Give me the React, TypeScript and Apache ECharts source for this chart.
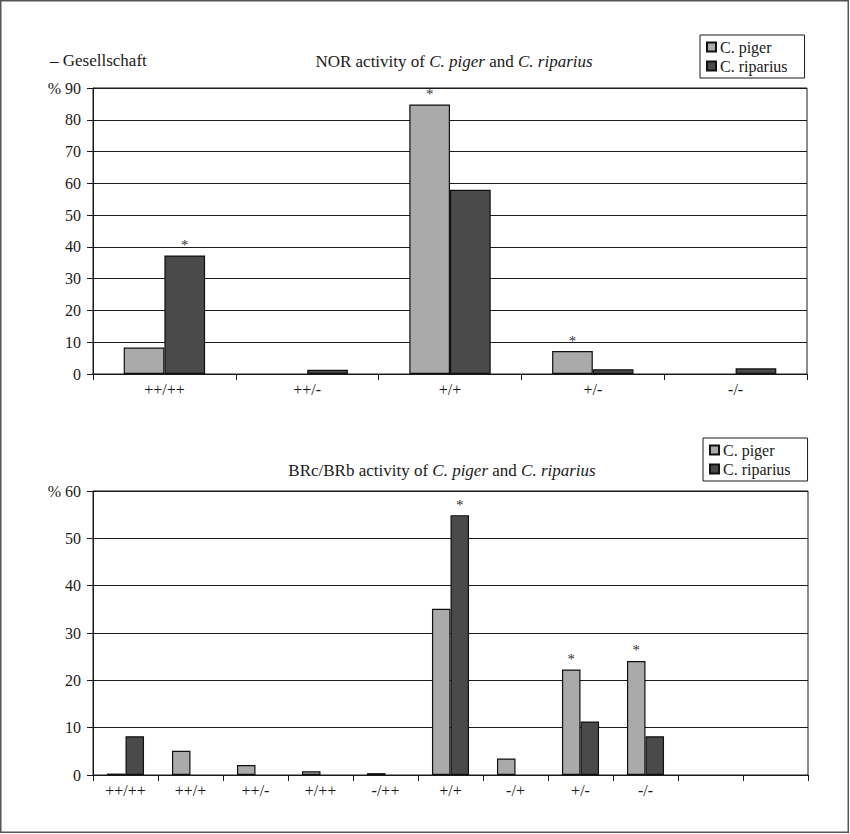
import { useEffect, useRef } from "react";
import * as echarts from "echarts";

// NOR activity (upper chart)
const norCategories = ["++/++", "++/-", "+/+", "+/-", "-/-"];
const norPiger = [8.3, 0, 84.8, 7.2, 0];
const norRiparius = [37.3, 1.3, 58, 1.5, 1.8];
const norPigerStar = [false, false, true, true, false];
const norRipariusStar = [true, false, false, false, false];

// BRc/BRb activity (lower chart)
const brCategories = ["++/++", "++/+", "++/-", "+/++", "-/++", "+/+", "-/+", "+/-", "-/-", "", " "];
const brPiger = [0.3, 5.1, 2.1, 0.8, 0.4, 35.1, 3.5, 22.3, 24.1, 0, 0];
const brRiparius = [8.2, 0, 0, 0, 0, 54.9, 0, 11.3, 8.2, 0, 0];
const brPigerStar = [false, false, false, false, false, false, false, true, true, false, false];
const brRipariusStar = [false, false, false, false, false, true, false, false, false, false, false];

const seriesNames = ["C. piger", "C. riparius"];

const FONT = "Liberation Serif";
const INK = "#1a1a1a";
const PIGER = "#aaaaaa";
const RIPARIUS = "#4a4a4a";

// zero bars are not drawn in the original figure
function withStars(values: number[], stars: boolean[]) {
  return values.map((v, i) => {
    if (v === 0) return "-";
    return stars[i]
      ? {
          value: v,
          label: {
            show: true,
            position: "top",
            distance: 3,
            formatter: "*",
            fontFamily: FONT,
            fontSize: 15,
            color: "#333",
          },
        }
      : v;
  });
}

function yAxis(gridIndex: number, max: number) {
  return {
    type: "value",
    gridIndex,
    min: 0,
    max,
    interval: 10,
    axisLine: { show: true, lineStyle: { color: INK, width: 1 } },
    axisTick: { show: true, length: 6, lineStyle: { color: INK } },
    axisLabel: {
      margin: 12,
      fontFamily: FONT,
      fontSize: 16,
      color: INK,
      formatter: (v: number) => (v === max ? `% ${v}` : `${v}`),
    },
    splitLine: { show: true, lineStyle: { color: INK, width: 1 } },
  };
}

function xAxis(gridIndex: number, data: string[]) {
  return {
    type: "category",
    gridIndex,
    data,
    axisLine: { show: true, lineStyle: { color: INK, width: 1 } },
    axisTick: { show: true, length: 6, interval: 0, lineStyle: { color: INK } },
    axisLabel: { interval: 0, margin: 7, fontFamily: FONT, fontSize: 16, color: INK },
  };
}

function bar(name: string, idx: number, data: any[], color: string) {
  return {
    name,
    type: "bar",
    xAxisIndex: idx,
    yAxisIndex: idx,
    data,
    barGap: "0%",
    barCategoryGap: "43%",
    itemStyle: { color, borderColor: "#111", borderWidth: 1.2 },
  };
}

function legend(left: number, top: number) {
  return {
    left,
    top,
    orient: "vertical",
    data: seriesNames,
    icon: "rect",
    itemWidth: 9,
    itemHeight: 9,
    itemGap: 3,
    padding: [4, 17, 4, 6],
    borderColor: INK,
    borderWidth: 1,
    selectedMode: false,
    textStyle: { fontFamily: FONT, fontSize: 16, color: INK, padding: [0, 0, 0, -1] },
  };
}

function title(text: string, left: number, top: number) {
  return {
    text,
    left,
    top,
    textAlign: "center",
    textStyle: {
      fontFamily: FONT,
      fontSize: 17,
      fontWeight: "normal",
      color: INK,
      rich: {
        i: { fontFamily: FONT, fontSize: 17, fontStyle: "italic", color: INK },
      },
    },
  };
}

export default function App() {
  const chartRef = useRef<HTMLDivElement>(null);

  useEffect(() => {
    if (!chartRef.current) return;
    const chart = echarts.init(chartRef.current, undefined, { renderer: "svg" });

    const option = {
      animation: false,
      backgroundColor: "#ffffff",
      title: [
        title("NOR activity of {i|C. piger} and {i|C. riparius}", 449, 48),
        title("BRc/BRb activity of {i|C. piger} and {i|C. riparius}", 437, 457),
        {
          text: "– Gesellschaft",
          left: 45,
          top: 47,
          textStyle: { fontFamily: FONT, fontSize: 17, fontWeight: "normal", color: INK },
        },
      ],
      legend: [legend(700, 35), legend(703, 438)],
      grid: [
        { left: 93, top: 88, width: 714, height: 286, show: true, borderColor: INK, borderWidth: 1, backgroundColor: "transparent" },
        { left: 93, top: 491, width: 715, height: 284, show: true, borderColor: INK, borderWidth: 1, backgroundColor: "transparent" },
      ],
      xAxis: [xAxis(0, norCategories), xAxis(1, brCategories)],
      yAxis: [yAxis(0, 90), yAxis(1, 60)],
      series: [
        bar(seriesNames[0], 0, withStars(norPiger, norPigerStar), PIGER),
        bar(seriesNames[1], 0, withStars(norRiparius, norRipariusStar), RIPARIUS),
        bar(seriesNames[0], 1, withStars(brPiger, brPigerStar), PIGER),
        bar(seriesNames[1], 1, withStars(brRiparius, brRipariusStar), RIPARIUS),
      ],
      graphic: [
        {
          type: "rect",
          shape: { x: 0.75, y: 0.75, width: 847.5, height: 831.5 },
          style: { fill: "none", stroke: "#555", lineWidth: 1.5 },
          silent: true,
        },
      ],
    };

    chart.setOption(option as any);

    return () => {
      chart.dispose();
    };
  }, []);

  return (
    <div
      ref={chartRef}
      style={{ position: "absolute", left: 0, top: 0, width: 850, height: 834 }}
    />
  );
}
